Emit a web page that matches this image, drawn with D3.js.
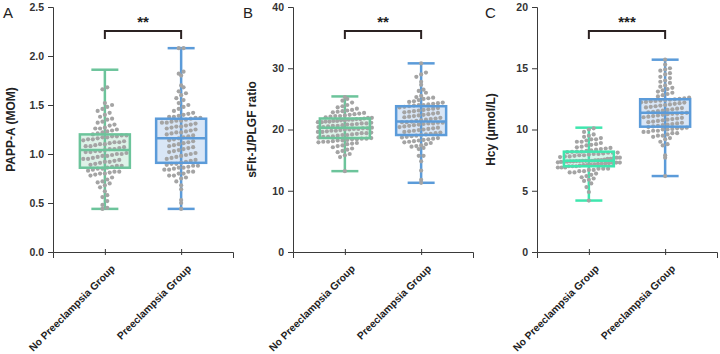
<!DOCTYPE html>
<html>
<head>
<meta charset="utf-8">
<script src="https://cdn.jsdelivr.net/npm/d3@7"></script>
<style>
  body { margin: 0; background: #fff; }
  svg { display: block; font-family: "Liberation Sans", Arial, sans-serif; }
</style>
</head>
<body>
<svg width="720" height="354"></svg>
<script>
// categories and panel texts
const groups = ["No Preeclampsia Group", "Preeclampsia Group"];
const panelIds = ["A", "B", "C"];
const yTitles = ["PAPP-A (MOM)", "sFlt-1/PLGF ratio", "Hcy (μmol/L)"];
const yMaxes = [2.5, 40, 20];
const yTickVals = [[0, 0.5, 1.0, 1.5, 2.0, 2.5], [0, 10, 20, 30, 40], [0, 5, 10, 15, 20]];
const sigLabels = ["**", "**", "***"];

// box stats: [min, q1, median, q3, max]
const pappNoStats = [0.44, 0.86, 1.04, 1.20, 1.86];
const pappPeStats = [0.44, 0.91, 1.16, 1.36, 2.08];
const sfltNoStats = [13.2, 18.6, 20.3, 21.8, 25.4];
const sfltPeStats = [11.3, 19.1, 21.3, 23.8, 30.8];
const hcyNoStats = [4.2, 7.0, 7.45, 8.19, 10.15];
const hcyPeStats = [6.2, 10.23, 11.37, 12.47, 15.7];

// individual points
const pappNo = [0.44, 0.45, 0.48, 0.52, 0.56, 0.58, 0.62, 0.66, 0.68, 0.70, 0.71, 0.72, 0.74, 0.76, 0.78, 0.79, 0.80, 0.80, 0.81, 0.82, 0.82, 0.83, 0.84, 0.85, 0.85,
  0.86, 0.87, 0.88, 0.88, 0.89, 0.90, 0.91, 0.92, 0.92, 0.93, 0.94, 0.95, 0.95, 0.96, 0.97, 0.98, 0.98, 0.99, 1.00, 1.00, 1.01, 1.02, 1.02, 1.03, 1.03,
  1.04, 1.05, 1.05, 1.06, 1.07, 1.08, 1.08, 1.09, 1.10, 1.10, 1.11, 1.12, 1.12, 1.13, 1.14, 1.15, 1.15, 1.16, 1.17, 1.17, 1.18, 1.18, 1.19, 1.19, 1.20,
  1.21, 1.22, 1.23, 1.24, 1.25, 1.26, 1.26, 1.27, 1.29, 1.30, 1.32, 1.33, 1.35, 1.36, 1.38, 1.40, 1.42, 1.44, 1.46, 1.48, 1.50, 1.52, 1.66, 1.68];
const pappPe = [0.44, 0.50, 0.53, 0.64, 0.68, 0.72, 0.75, 0.76, 0.78, 0.78, 0.80, 0.80, 0.82, 0.82, 0.84, 0.84, 0.85, 0.86, 0.86, 0.87, 0.88, 0.88, 0.89, 0.90, 0.90,
  0.91, 0.92, 0.93, 0.94, 0.95, 0.96, 0.97, 0.98, 0.99, 1.00, 1.01, 1.02, 1.03, 1.04, 1.05, 1.06, 1.07, 1.08, 1.09, 1.10, 1.11, 1.12, 1.13, 1.14, 1.15,
  1.16, 1.17, 1.18, 1.19, 1.20, 1.21, 1.22, 1.22, 1.23, 1.24, 1.25, 1.26, 1.27, 1.28, 1.28, 1.29, 1.30, 1.31, 1.32, 1.32, 1.33, 1.34, 1.34, 1.35, 1.36,
  1.37, 1.37, 1.38, 1.38, 1.39, 1.40, 1.41, 1.42, 1.44, 1.46, 1.48, 1.50, 1.52, 1.55, 1.57, 1.60, 1.62, 1.64, 1.68, 1.70, 1.80, 1.82, 1.84, 2.08, 2.08];
const sfltNo = [13.2, 15.5, 15.8, 16.0, 16.3, 16.5, 16.7, 16.9, 17.1, 17.3, 17.4, 17.6, 17.7, 17.8, 17.9, 18.0, 18.0, 18.1, 18.2, 18.2, 18.3, 18.4, 18.4, 18.5, 18.5,
  18.6, 18.7, 18.8, 18.8, 18.9, 19.0, 19.1, 19.1, 19.2, 19.3, 19.4, 19.4, 19.5, 19.6, 19.6, 19.7, 19.8, 19.8, 19.9, 20.0, 20.0, 20.1, 20.1, 20.2, 20.2,
  20.3, 20.4, 20.4, 20.5, 20.6, 20.6, 20.7, 20.8, 20.8, 20.9, 21.0, 21.0, 21.1, 21.2, 21.2, 21.3, 21.3, 21.4, 21.4, 21.5, 21.5, 21.6, 21.6, 21.7, 21.7,
  21.8, 21.9, 21.9, 22.0, 22.1, 22.2, 22.2, 22.3, 22.4, 22.5, 22.6, 22.7, 22.8, 22.9, 23.0, 23.1, 23.2, 23.4, 23.6, 23.8, 24.0, 24.4, 24.7, 25.0, 25.3];
const sfltPe = [11.3, 11.8, 13.3, 14.8, 15.7, 15.7, 16.8, 17.0, 17.2, 17.3, 17.4, 17.6, 17.8, 17.9, 18.0, 18.1, 18.2, 18.3, 18.4, 18.5, 18.6, 18.7, 18.8, 18.9, 19.0,
  19.1, 19.2, 19.3, 19.4, 19.5, 19.6, 19.7, 19.8, 19.9, 20.0, 20.1, 20.2, 20.3, 20.4, 20.5, 20.6, 20.7, 20.8, 20.9, 21.0, 21.0, 21.1, 21.1, 21.2, 21.2,
  21.3, 21.4, 21.5, 21.6, 21.7, 21.8, 21.9, 22.0, 22.1, 22.2, 22.3, 22.4, 22.5, 22.6, 22.7, 22.8, 22.9, 23.0, 23.1, 23.2, 23.3, 23.4, 23.5, 23.6, 23.7,
  23.8, 23.9, 24.0, 24.0, 24.1, 24.2, 24.3, 24.4, 24.5, 24.6, 24.8, 25.0, 25.1, 25.2, 25.3, 25.5, 26.0, 26.3, 26.5, 27.3, 27.8, 28.6, 29.0, 29.3, 30.8];
const hcyNo = [4.2, 4.9, 5.3, 5.6, 5.8, 5.9, 6.0, 6.1, 6.2, 6.3, 6.4, 6.5, 6.5, 6.6, 6.6, 6.7, 6.7, 6.8, 6.8, 6.8, 6.9, 6.9, 6.9, 7.0, 7.0,
  7.0, 7.05, 7.1, 7.1, 7.12, 7.15, 7.2, 7.2, 7.22, 7.25, 7.28, 7.3, 7.3, 7.32, 7.35, 7.35, 7.38, 7.4, 7.4, 7.42, 7.43, 7.44, 7.44, 7.45, 7.45,
  7.48, 7.5, 7.5, 7.55, 7.6, 7.6, 7.65, 7.7, 7.7, 7.75, 7.8, 7.8, 7.85, 7.9, 7.9, 7.95, 8.0, 8.0, 8.05, 8.1, 8.1, 8.12, 8.15, 8.18, 8.19,
  8.2, 8.25, 8.3, 8.35, 8.4, 8.45, 8.5, 8.55, 8.6, 8.7, 8.75, 8.8, 8.9, 9.0, 9.0, 9.1, 9.2, 9.2, 9.3, 9.4, 9.5, 9.6, 9.8, 10.0, 10.1];
const hcyPe = [6.2, 7.7, 7.9, 8.7, 8.8, 9.0, 9.2, 9.3, 9.4, 9.5, 9.5, 9.6, 9.7, 9.7, 9.8, 9.8, 9.9, 9.9, 10.0, 10.0, 10.05, 10.1, 10.1, 10.15, 10.2,
  10.25, 10.3, 10.35, 10.4, 10.45, 10.5, 10.55, 10.6, 10.65, 10.7, 10.75, 10.8, 10.85, 10.9, 10.95, 11.0, 11.05, 11.1, 11.15, 11.2, 11.25, 11.28, 11.3, 11.33, 11.36,
  11.4, 11.45, 11.5, 11.55, 11.6, 11.65, 11.7, 11.75, 11.8, 11.85, 11.9, 11.95, 12.0, 12.05, 12.1, 12.15, 12.2, 12.22, 12.25, 12.3, 12.33, 12.36, 12.4, 12.43, 12.46,
  12.5, 12.55, 12.6, 12.7, 12.8, 12.9, 13.0, 13.1, 13.2, 13.3, 13.4, 13.5, 13.6, 13.8, 13.9, 14.0, 14.2, 14.3, 14.5, 14.6, 14.8, 14.9, 15.0, 15.3, 15.7];

const panelStats = [[pappNoStats, pappPeStats], [sfltNoStats, sfltPeStats], [hcyNoStats, hcyPeStats]];
const panelDots = [[pappNo, pappPe], [sfltNo, sfltPe], [hcyNo, hcyPe]];

// layout
const axisX = [53, 293, 537];
const titleX = [11, 252, 491];
const letterX = [3, 243, 485];
const plotW = 180, plotTop = 7, plotBottom = 252;
const rowHs = [6, 5, 5];
const maxSpread = [50, 54, 62];
const greens = ["#6cc49b", "#6cc49b", "#3fe6ae"];
const greenFill = ["#d6efe2", "#d6efe2", "#c9f5e6"];
const blue = "#5b9bd9", blueFill = "#cfe0f4";
const ink = "#3a3a3a";

const svg = d3.select("svg");

panelIds.forEach((id, p) => {
  const g = svg.append("g").attr("transform", `translate(${axisX[p]},0)`);

  const y = d3.scaleLinear().domain([0, yMaxes[p]]).range([plotBottom, plotTop]);
  const x = d3.scalePoint().domain(groups).range([0, plotW]).padding(0.68);

  // y axis
  const fmt = p === 0 ? d3.format(".1f") : d3.format("d");
  const ay = g.append("g").call(d3.axisLeft(y).tickValues(yTickVals[p]).tickFormat(fmt).tickSizeOuter(0).tickSize(5));
  ay.selectAll("text").attr("font-size", 10.5).attr("font-weight", "bold").attr("fill", "#333").attr("dx", "-1");

  // x axis
  const ax = g.append("g").attr("transform", `translate(0,${plotBottom})`)
    .call(d3.axisBottom(x).tickSizeOuter(0).tickSize(6));
  ax.selectAll(".tick line").attr("transform", "translate(0,-3)");
  ax.selectAll("text")
    .attr("font-size", 10.3).attr("font-weight", "bold").attr("fill", "#222")
    .style("text-anchor", "end")
    .attr("dx", "0").attr("dy", "0")
    .attr("transform", "translate(4,11) rotate(-45)");
  g.selectAll(".domain").attr("stroke", ink);
  g.selectAll(".tick line").attr("stroke", ink);

  // titles
  svg.append("text")
    .attr("transform", `translate(${titleX[p]},${(plotTop + plotBottom) / 2}) rotate(-90)`)
    .attr("text-anchor", "middle").attr("dy", "0.35em")
    .attr("font-size", 12).attr("font-weight", "bold").attr("fill", "#222")
    .text(yTitles[p]);
  svg.append("text")
    .attr("x", letterX[p]).attr("y", 18)
    .attr("font-size", 15).attr("fill", "#222")
    .text(id);

  // boxes
  groups.forEach((grp, k) => {
    const s = panelStats[p][k];
    const cx = x(grp);
    const col = k === 0 ? greens[p] : blue;
    const fill = k === 0 ? greenFill[p] : blueFill;
    const bw = 50, cap = 27;

    g.append("rect")
      .attr("x", cx - bw / 2).attr("width", bw)
      .attr("y", y(s[3])).attr("height", y(s[1]) - y(s[3]))
      .attr("fill", fill).attr("fill-opacity", 0.8);

    const lines = [
      [cx, y(s[0]), cx, y(s[1])],
      [cx, y(s[3]), cx, y(s[4])],
      [cx - cap / 2, y(s[0]), cx + cap / 2, y(s[0])],
      [cx - cap / 2, y(s[4]), cx + cap / 2, y(s[4])],
      [cx, y(s[1]), cx, y(s[3])]
    ];
    g.selectAll(null).data(lines).enter().append("line")
      .attr("x1", d => d[0]).attr("y1", d => d[1])
      .attr("x2", d => d[2]).attr("y2", d => d[3])
      .attr("stroke", col).attr("stroke-width", 2.5);

    // dots grouped in rows, spread sideways
    const rowH = rowHs[p];
    const rows = d3.group(panelDots[p][k], v => Math.round(y(v) / rowH));
    const pts = [];
    rows.forEach(vals => {
      const n = vals.length;
      const gap = Math.min(4.8, n > 1 ? maxSpread[p] / (n - 1) : 4.8);
      vals.forEach((v, i) => {
        pts.push({ x: cx + (i - (n - 1) / 2) * gap, y: y(v) });
      });
    });
    g.selectAll(null).data(pts).enter().append("circle")
      .attr("cx", d => d.x).attr("cy", d => d.y).attr("r", 2.1)
      .attr("fill", "#a4a4a4");

    g.append("rect")
      .attr("x", cx - bw / 2).attr("width", bw)
      .attr("y", y(s[3])).attr("height", y(s[1]) - y(s[3]))
      .attr("fill", "none").attr("stroke", col).attr("stroke-width", 2.5);
    g.append("line")
      .attr("x1", cx - bw / 2).attr("x2", cx + bw / 2)
      .attr("y1", y(s[2])).attr("y2", y(s[2]))
      .attr("stroke", col).attr("stroke-width", 2.5);
  });

  // significance bracket
  const x0 = x(groups[0]), x1 = x(groups[1]), by = 31;
  g.append("path")
    .attr("d", `M${x0},${by + 8}V${by}H${x1}V${by + 8}`)
    .attr("fill", "none").attr("stroke", "#2b2222").attr("stroke-width", 2);
  g.append("text")
    .attr("x", (x0 + x1) / 2).attr("y", 27)
    .attr("text-anchor", "middle").attr("font-size", 15).attr("font-weight", "bold")
    .attr("fill", "#222").text(sigLabels[p]);
});
</script>
</body>
</html>
